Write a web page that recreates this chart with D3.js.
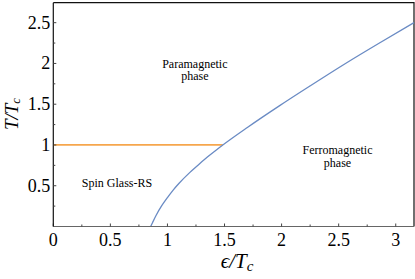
<!DOCTYPE html>
<html>
<head>
<meta charset="utf-8">
<script src="https://cdn.jsdelivr.net/npm/d3@7"></script>
<style>
  body { margin: 0; background: #fff; }
  svg text { font-family: 'Liberation Serif', 'Times New Roman', 'DejaVu Serif', serif; }
</style>
</head>
<body>
<div id="chart"></div>
<script>
// boundary between paramagnetic and ferromagnetic phase
const boundaryEps = [0.853, 0.87, 0.9, 0.95, 1.0, 1.05, 1.1, 1.19, 1.27, 1.35, 1.42, 1.485,
  1.7, 1.98, 2.25, 2.56, 2.85, 3.16];
const boundaryT = [0, 0.05, 0.135, 0.255, 0.355, 0.447, 0.528, 0.655, 0.755, 0.852, 0.93, 1.0,
  1.215, 1.48, 1.725, 2.0, 2.245, 2.5];

// spin glass line at T = Tc
const glassEps = [0, 1.485];
const glassT = [1, 1];

const xTicks = [0, 0.5, 1, 1.5, 2, 2.5, 3];
const xTickLabels = ['0', '0.5', '1', '1.5', '2', '2.5', '3'];
const yTicks = [0.5, 1, 1.5, 2, 2.5];
const yTickLabels = ['0.5', '1', '1.5', '2', '2.5'];

const phaseLabels = [
  {lines: ['Paramagnetic', 'phase'], eps: 1.24, t: 1.95},
  {lines: ['Ferromagnetic', 'phase'], eps: 2.49, t: 0.885},
  {lines: ['Spin Glass-RS'], eps: 0.25, t: 0.49},
];

function phaseDiagram() {
  const totalWidth = 415;
  const totalHeight = 279;
  const margin = {top: 2.7, right: 1, bottom: 52.5, left: 53.3};

  const x = d3.scaleLinear().domain([0, 3.16])
    .range([margin.left, totalWidth - margin.right]);
  const y = d3.scaleLinear().domain([0, 2.745])
    .range([totalHeight - margin.bottom, margin.top]);

  const svg = d3.select('#chart').append('svg')
    .attr('width', totalWidth)
    .attr('height', totalHeight);

  // frame on top and right
  svg.append('path')
    .attr('d', 'M' + x(0) + ',' + y(2.745) + 'H' + x(3.16) + 'V' + y(0))
    .attr('fill', 'none')
    .attr('stroke', '#111')
    .attr('stroke-width', 1.2);

  const line = d3.line()
    .x(function(d) { return x(d[0]); })
    .y(function(d) { return y(d[1]); });

  svg.append('path')
    .datum(d3.zip(glassEps, glassT))
    .attr('d', line)
    .attr('fill', 'none')
    .attr('stroke', '#F6A64C')
    .attr('stroke-width', 1.8);

  svg.append('path')
    .datum(d3.zip(boundaryEps, boundaryT))
    .attr('d', line.curve(d3.curveMonotoneX))
    .attr('fill', 'none')
    .attr('stroke', '#6A8BC4')
    .attr('stroke-width', 1.3);

  // x axis
  const xAxis = svg.append('g')
    .attr('transform', 'translate(0,' + y(0) + ')');
  xAxis.append('line')
    .attr('x1', x(0)).attr('x2', x(3.16))
    .attr('stroke', '#666').attr('stroke-width', 1.2);
  xAxis.selectAll('.minor')
    .data(d3.range(0.25, 3.16, 0.5))
    .enter().append('line')
      .attr('x1', function(d) { return x(d); })
      .attr('x2', function(d) { return x(d); })
      .attr('y1', 0).attr('y2', -2)
      .attr('stroke', '#444');
  xAxis.selectAll('.major')
    .data(xTicks)
    .enter().append('line')
      .attr('x1', function(d) { return x(d); })
      .attr('x2', function(d) { return x(d); })
      .attr('y1', 0).attr('y2', -3)
      .attr('stroke', '#444');
  xAxis.selectAll('text')
    .data(xTicks)
    .enter().append('text')
      .attr('x', function(d) { return x(d); })
      .attr('y', 19)
      .attr('text-anchor', 'middle')
      .attr('font-size', 18)
      .text(function(d, i) { return xTickLabels[i]; });

  // y axis
  const yAxis = svg.append('g')
    .attr('transform', 'translate(' + x(0) + ',0)');
  yAxis.append('line')
    .attr('y1', y(0)).attr('y2', y(2.745))
    .attr('stroke', '#111').attr('stroke-width', 1.2);
  yAxis.selectAll('.minor')
    .data(d3.range(0.25, 2.745, 0.5))
    .enter().append('line')
      .attr('y1', function(d) { return y(d); })
      .attr('y2', function(d) { return y(d); })
      .attr('x1', 0).attr('x2', 2)
      .attr('stroke', '#444');
  yAxis.selectAll('.major')
    .data(yTicks)
    .enter().append('line')
      .attr('y1', function(d) { return y(d); })
      .attr('y2', function(d) { return y(d); })
      .attr('x1', 0).attr('x2', 3)
      .attr('stroke', '#444');
  yAxis.selectAll('text')
    .data(yTicks)
    .enter().append('text')
      .attr('x', -3)
      .attr('y', function(d) { return y(d); })
      .attr('dy', '0.33em')
      .attr('text-anchor', 'end')
      .attr('font-size', 18)
      .text(function(d, i) { return yTickLabels[i]; });

  // phase labels
  phaseLabels.forEach(function(p) {
    const t = svg.append('text')
      .attr('font-size', 12)
      .attr('text-anchor', p.lines.length > 1 ? 'middle' : 'start');
    p.lines.forEach(function(s, i) {
      t.append('tspan')
        .attr('x', x(p.eps))
        .attr('y', y(p.t) + i * 12.5)
        .text(s);
    });
  });

  // axis titles
  const xt = svg.append('text')
    .attr('x', 237)
    .attr('y', 268)
    .attr('text-anchor', 'middle')
    .attr('font-size', 21)
    .attr('font-style', 'italic');
  xt.append('tspan').text('\u03f5/T');
  xt.append('tspan').attr('font-size', 15).attr('dy', 3).text('c');

  const yt = svg.append('text')
    .attr('transform', 'translate(18,114) rotate(-90)')
    .attr('text-anchor', 'middle')
    .attr('font-size', 19)
    .attr('font-style', 'italic');
  yt.append('tspan').text('T/T');
  yt.append('tspan').attr('font-size', 13).attr('dy', 2).text('c');
}

phaseDiagram();
</script>
</body>
</html>
